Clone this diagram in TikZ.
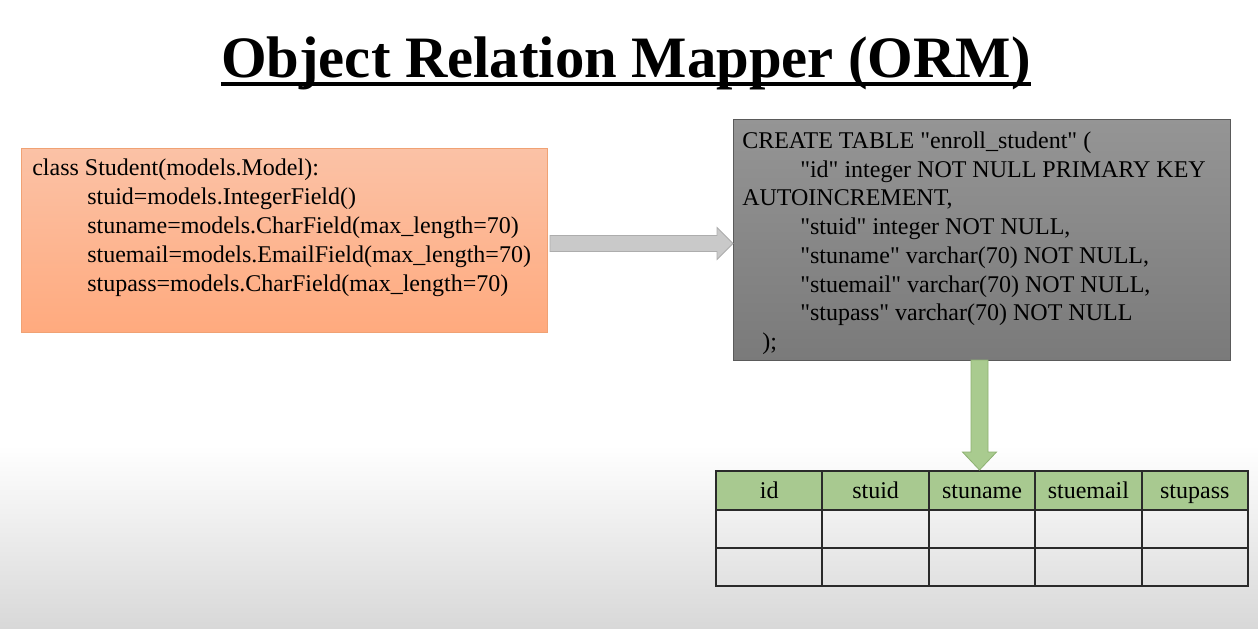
\documentclass[tikz,border=0pt]{standalone}
\usepackage{fontspec}
\newfontfamily\tnr{Liberation Serif}
\usetikzlibrary{calc}
\definecolor{bgbot}{HTML}{D8D8D8}
\definecolor{ortop}{HTML}{FBC2A6}
\definecolor{orbot}{HTML}{FFAA7E}
\definecolor{ordraw}{HTML}{F0A274}
\definecolor{grtop}{HTML}{959595}
\definecolor{grbot}{HTML}{7A7A7A}
\definecolor{grdraw}{HTML}{5A5A5A}
\definecolor{arrgray}{HTML}{C9C9C9}
\definecolor{arrgraydraw}{HTML}{ADADAD}
\definecolor{hdrgreen}{HTML}{A8C990}
\definecolor{arrgreen}{HTML}{A9CB8F}
\definecolor{arrgreendraw}{HTML}{8DB172}
\definecolor{gridline}{HTML}{2A2A2A}
\tikzset{
  txt/.style={anchor=base west, inner sep=0pt, font=\tnr\fontsize{18}{21.6}\selectfont, text=black},
  titletxt/.style={anchor=base, inner sep=0pt, font=\tnr\bfseries\fontsize{44}{50}\selectfont},
  cell/.style={draw=gridline, line width=1.5pt, minimum width=79.8pt, inner sep=0pt,
    text height=14.5pt, text depth=2pt, font=\tnr\fontsize{18}{21.6}\selectfont},
  hdrcell/.style={cell, fill=hdrgreen, minimum height=29.25pt},
  bodycell/.style={cell, minimum height=28.5pt},
}
\begin{document}
\begin{tikzpicture}[x=0.75pt,y=-0.75pt]
\useasboundingbox (0,0) rectangle (1258,629);
\fill[white] (0,0) rectangle (1258,446);
\shade[top color=white, bottom color=bgbot] (0,445) rectangle (1258,629);

% title
\node[titletxt] (title) at (626,77) {Object Relation Mapper (ORM)};
\draw[line width=3pt] ($(title.base west)+(0,7)$) -- ($(title.base east)+(0,7)$);

% orange model box
\node[anchor=north west, draw=ordraw, line width=0.75pt, top color=ortop, bottom color=orbot,
      minimum width=394.5pt, minimum height=138pt, inner sep=0pt] (model) at (21,148) {};
\node[txt] (m1) at (32,175) {class Student(models.Model):};
\node[txt] (m2) at (87,204) {stuid=models.IntegerField()};
\node[txt] (m3) at (87,233) {stuname=models.CharField(max\_length=70)};
\node[txt] (m4) at (87,262) {stuemail=models.EmailField(max\_length=70)};
\node[txt] (m5) at (87,291) {stupass=models.CharField(max\_length=70)};

% gray SQL box
\node[anchor=north west, draw=grdraw, line width=0.75pt, top color=grtop, bottom color=grbot,
      minimum width=372.75pt, minimum height=180.75pt, inner sep=0pt] (sql) at (733,119) {};
\node[txt] (s1) at (742,148.5) {CREATE TABLE "enroll\_student" (};
\node[txt] (s2) at (800,177.2) {"id" integer NOT NULL PRIMARY KEY};
\node[txt] (s3) at (742,205.9) {AUTOINCREMENT,};
\node[txt] (s4) at (800,234.6) {"stuid" integer NOT NULL,};
\node[txt] (s5) at (800,263.3) {"stuname" varchar(70) NOT NULL,};
\node[txt] (s6) at (800,292.0) {"stuemail" varchar(70) NOT NULL,};
\node[txt] (s7) at (800,320.7) {"stupass" varchar(70) NOT NULL};
\node[txt] (s8) at (762,349.4) {);};

% gray block arrow: model -> sql
\coordinate (ga) at ($(model.east)+(2,3)$);
\coordinate (gb) at ($(sql.west)+(0,3.5)$);
\filldraw[fill=arrgray, draw=arrgraydraw, line width=0.6pt]
  ($(ga)+(0,-8)$) -- ($(gb |- ga)+(-16,-8)$) -- ($(gb |- ga)+(-16,-16)$) -- (gb |- ga)
  -- ($(gb |- ga)+(-16,16)$) -- ($(gb |- ga)+(-16,8)$) -- ($(ga)+(0,8)$) -- cycle;

% table
\foreach \lbl [count=\c] in {id,stuid,stuname,stuemail,stupass}{
  \node[hdrcell] (h\c) at ({716+106.4*(\c-0.5)},490.5) {\lbl};
  \node[bodycell] (r1c\c) at ({716+106.4*(\c-0.5)},529) {};
  \node[bodycell] (r2c\c) at ({716+106.4*(\c-0.5)},567) {};
}

% green block arrow: sql -> table
\coordinate (gs) at (979.5,360);
\coordinate (gt) at (gs |- h3.north);
\filldraw[fill=arrgreen, draw=arrgreendraw, line width=0.6pt]
  ($(gs)+(-8.5,0)$) -- ($(gt)+(-8.5,-18)$) -- ($(gt)+(-17,-18)$) -- (gt)
  -- ($(gt)+(17,-18)$) -- ($(gt)+(8.5,-18)$) -- ($(gs)+(8.5,0)$) -- cycle;
\end{tikzpicture}
\end{document}
